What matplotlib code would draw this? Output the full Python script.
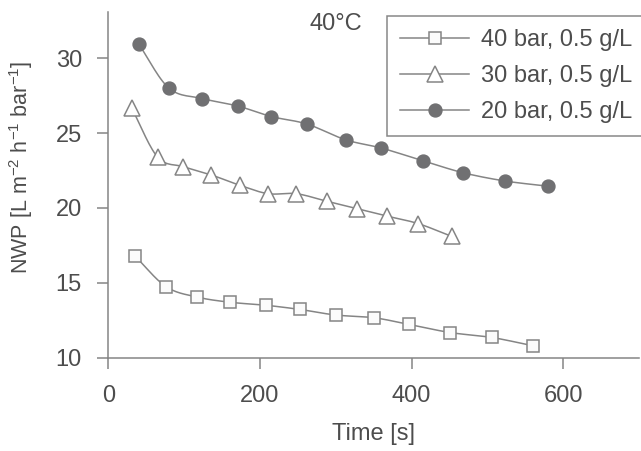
import matplotlib
matplotlib.use("Agg")
import matplotlib.pyplot as plt
from matplotlib.lines import Line2D
import numpy as np

# values
time_40 = [35, 76, 117, 161, 208, 253, 300, 350, 397, 451, 506, 560]
nwp_40 = [16.8, 14.75, 14.05, 13.7, 13.5, 13.22, 12.85, 12.67, 12.22, 11.68, 11.35, 10.8]

time_30 = [31, 65, 99, 136, 174, 211, 248, 288, 328, 368, 409, 453]
nwp_30 = [26.65, 23.4, 22.75, 22.2, 21.5, 20.95, 20.95, 20.45, 19.95, 19.45, 18.95, 18.1]

time_20 = [40, 80, 124, 171, 215, 262, 313, 360, 415, 468, 523, 580]
nwp_20 = [30.95, 28.0, 27.3, 26.8, 26.1, 25.6, 24.55, 24.0, 23.15, 22.35, 21.8, 21.45]

labels = ["40 bar, 0.5 g/L", "30 bar, 0.5 g/L", "20 bar, 0.5 g/L"]

plt.rcParams['font.family'] = ['Liberation Sans', 'DejaVu Sans']
plt.rcParams['mathtext.fontset'] = 'custom'
plt.rcParams['mathtext.rm'] = 'Liberation Sans'
plt.rcParams['mathtext.default'] = 'regular'

txt = '#4d4d4d'
gray = '#858585'
dark = '#707072'


def smooth_curve(x, y, n=16):
    # Catmull-Rom through the points, like a spreadsheet "smoothed line"
    p = np.column_stack([x, y]).astype(float)
    p = np.vstack([2 * p[0] - p[1], p, 2 * p[-1] - p[-2]])
    out = []
    t = np.linspace(0, 1, n)[:, None]
    for i in range(1, len(p) - 2):
        p0, p1, p2, p3 = p[i - 1], p[i], p[i + 1], p[i + 2]
        seg = 0.5 * ((2 * p1) + (-p0 + p2) * t
                     + (2 * p0 - 5 * p1 + 4 * p2 - p3) * t ** 2
                     + (-p0 + 3 * p1 - 3 * p2 + p3) * t ** 3)
        out.append(seg if i == 1 else seg[1:])
    out = np.vstack(out)
    return out[:, 0], out[:, 1]


W, H = 641, 451
fig = plt.figure(figsize=(W / 100, H / 100), dpi=100)
ax = fig.add_axes([108.3 / W, 1 - 357.7 / H, 530.6 / W, 346 / H])

series = [
    (time_40, nwp_40, dict(marker='s', ms=8, mfc='#fbfbfb', mec=gray, mew=1.1)),
    (time_30, nwp_30, dict(marker='^', ms=11, mfc='white', mec=gray, mew=1.1)),
    (time_20, nwp_20, dict(marker='o', ms=9.3, mfc=dark, mec=dark, mew=1.0)),
]

handles = []
for (x, y, mk), lab in zip(series, labels):
    sx, sy = smooth_curve(x, y)
    ax.plot(sx, sy, color=gray, lw=1.1, zorder=2)
    ax.plot(x, y, ls='none', zorder=3, **mk)
    handles.append(Line2D([], [], color=gray, lw=1.1, **mk))

ax.set_xlim(0, 700)
ax.set_ylim(10, 33.1)
ax.set_xticks([0, 200, 400, 600])
ax.set_yticks([10, 15, 20, 25, 30])

for s in ['top', 'right']:
    ax.spines[s].set_visible(False)
for s in ['left', 'bottom']:
    ax.spines[s].set_color(gray)
    ax.spines[s].set_linewidth(1.1)

ax.tick_params(axis='both', direction='out', length=8, width=1.1,
               color=gray, labelcolor=txt, labelsize=17)
ax.tick_params(axis='x', pad=12)
ax.tick_params(axis='y', pad=11)

ax.set_xlabel('Time [s]', fontsize=17, color=txt)
ax.xaxis.set_label_coords(0.5, -0.19)
ax.set_ylabel(r'NWP [L m$^{-2}$ h$^{-1}$ bar$^{-1}$]', fontsize=15.5, color=txt)
ax.yaxis.set_label_coords(-0.138, 0.55)

fig.text(335.5 / W, 1 - 23.5 / H, '40°C', fontsize=17, color=txt,
         ha='center', va='center')

leg = fig.legend(handles, labels, loc='upper left',
                 bbox_to_anchor=(387.3 / W, 1 - 16 / H),
                 frameon=True, fancybox=False, fontsize=17,
                 handlelength=2.9, handletextpad=0.5, labelspacing=0.6,
                 borderpad=0.55, borderaxespad=0)
leg.get_frame().set_edgecolor('#6a6a6a')
leg.get_frame().set_linewidth(1.1)
for t in leg.get_texts():
    t.set_color(txt)

fig.savefig('out.png', dpi=100)
